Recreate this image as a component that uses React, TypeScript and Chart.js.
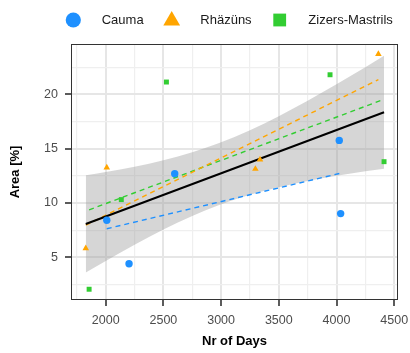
import React, { useEffect, useRef } from 'react';
import { Chart, registerables } from 'chart.js';

Chart.register(...registerables);

// ---- data ----
const caumaX = [2009, 2202, 2598, 4024, 4036];
const caumaY = [8.41, 4.41, 12.7, 15.76, 9.02];
const rhazunsX = [1827, 2009, 3297, 3337, 4363];
const rhazunsY = [5.83, 13.26, 13.13, 13.99, 23.7];
const zizersX = [1856, 2135, 2526, 3944, 4412];
const zizersY = [2.06, 10.31, 21.13, 21.8, 13.8];

// trend lines (end points)
const overallFitX = [1827, 4412];
const overallFitY = [8.07, 18.35];
const caumaFitX = [2009, 4036];
const caumaFitY = [7.63, 12.74];
const rhazunsFitX = [1827, 4363];
const rhazunsFitY = [7.95, 21.35];
const zizersFitX = [1856, 4412];
const zizersFitY = [9.37, 19.54];

// confidence band of the overall trend
const bandX = [1827, 2000, 2250, 2500, 2750, 2972, 3250, 3500, 3750, 4000, 4250, 4412];
const bandLow = [3.59, 4.66, 6.16, 7.55, 8.8, 9.76, 10.75, 11.45, 12.02, 12.5, 12.91, 13.15];
const bandHigh = [12.55, 12.85, 13.34, 13.94, 14.67, 15.48, 16.7, 17.99, 19.41, 20.93, 22.5, 23.55];

// axes
const xTicks = [1750, 2000, 2250, 2500, 2750, 3000, 3250, 3500, 3750, 4000, 4250, 4500];
const xLabelTicks = [2000, 2500, 3000, 3500, 4000, 4500];
const yTicks = [2.5, 5, 7.5, 10, 12.5, 15, 17.5, 20, 22.5];
const yLabelTicks = [5, 10, 15, 20];

const legendNames = ['Cauma', 'Rhäzüns', 'Zizers-Mastrils'];
const BLUE = '#1E90FF';
const ORANGE = '#FFA500';
const GREEN = '#32CD32';

const FONT = '"Liberation Sans", Arial, Helvetica, sans-serif';

const zip = (xs: number[], ys: number[]) => xs.map((x, i) => ({ x, y: ys[i] }));

const panelBorder = {
  id: 'panelBorder',
  afterDatasetsDraw(chart: any) {
    const { ctx, chartArea: a } = chart;
    ctx.save();
    ctx.strokeStyle = '#333333';
    ctx.lineWidth = 1;
    ctx.strokeRect(Math.round(a.left) + 0.5, Math.round(a.top) + 0.5, Math.round(a.right - a.left) - 1, Math.round(a.bottom - a.top) - 1);
    ctx.restore();
  },
};

const topLegend = {
  id: 'topLegend',
  afterDraw(chart: any) {
    const { ctx } = chart;
    const cy = 20;
    ctx.save();
    // circle
    ctx.fillStyle = BLUE;
    ctx.beginPath();
    ctx.arc(73.3, cy, 7.6, 0, Math.PI * 2);
    ctx.fill();
    // triangle
    ctx.fillStyle = ORANGE;
    ctx.beginPath();
    ctx.moveTo(171.7, cy - 9);
    ctx.lineTo(171.7 + 8.4, cy + 5.6);
    ctx.lineTo(171.7 - 8.4, cy + 5.6);
    ctx.closePath();
    ctx.fill();
    // square
    ctx.fillStyle = GREEN;
    ctx.fillRect(279.7 - 6.4, cy - 6.4, 12.8, 12.8);
    // texts
    ctx.fillStyle = '#1A1A1A';
    ctx.font = `13px ${FONT}`;
    ctx.textBaseline = 'middle';
    ctx.textAlign = 'left';
    ctx.fillText(legendNames[0], 101.7, cy);
    ctx.fillText(legendNames[1], 200.3, cy);
    ctx.fillText(legendNames[2], 308.3, cy);
    ctx.restore();
  },
};

export default function App() {
  const ref = useRef<HTMLCanvasElement | null>(null);

  useEffect(() => {
    if (!ref.current) return;
    const chart = new Chart(ref.current, {
      type: 'scatter',
      data: {
        datasets: [
          {
            label: legendNames[0],
            data: zip(caumaX, caumaY),
            pointStyle: 'circle',
            pointRadius: 3.7,
            backgroundColor: BLUE,
            borderWidth: 0,
            showLine: false,
          },
          {
            label: legendNames[1],
            data: zip(rhazunsX, rhazunsY),
            pointStyle: 'triangle',
            pointRadius: 3.8,
            backgroundColor: ORANGE,
            borderWidth: 0,
            showLine: false,
          },
          {
            label: legendNames[2],
            data: zip(zizersX, zizersY),
            pointStyle: 'rect',
            pointRadius: 3.5,
            backgroundColor: GREEN,
            borderWidth: 0,
            showLine: false,
          },
          {
            label: 'overall',
            data: zip(overallFitX, overallFitY),
            showLine: true,
            borderColor: '#000000',
            borderWidth: 2,
            pointRadius: 0,
          },
          {
            label: 'cauma fit',
            data: zip(caumaFitX, caumaFitY),
            showLine: true,
            borderColor: BLUE,
            borderWidth: 1.4,
            borderDash: [5, 4],
            pointRadius: 0,
          },
          {
            label: 'rhazuns fit',
            data: zip(rhazunsFitX, rhazunsFitY),
            showLine: true,
            borderColor: ORANGE,
            borderWidth: 1.4,
            borderDash: [5, 4],
            pointRadius: 0,
          },
          {
            label: 'zizers fit',
            data: zip(zizersFitX, zizersFitY),
            showLine: true,
            borderColor: GREEN,
            borderWidth: 1.4,
            borderDash: [5, 4],
            pointRadius: 0,
          },
          {
            label: 'band high',
            data: zip(bandX, bandHigh),
            showLine: true,
            borderWidth: 0,
            borderColor: 'rgba(0,0,0,0)',
            pointRadius: 0,
            cubicInterpolationMode: 'monotone',
            fill: '+1',
            backgroundColor: 'rgba(153,153,153,0.4)',
          },
          {
            label: 'band low',
            data: zip(bandX, bandLow),
            showLine: true,
            borderWidth: 0,
            borderColor: 'rgba(0,0,0,0)',
            pointRadius: 0,
            cubicInterpolationMode: 'monotone',
            fill: false,
          },
        ],
      },
      options: {
        animation: false,
        responsive: true,
        maintainAspectRatio: false,
        layout: { padding: { top: 44, right: 12, left: 0, bottom: 0 } },
        plugins: {
          legend: { display: false },
          tooltip: { enabled: false },
        },
        scales: {
          x: {
            type: 'linear',
            min: 1699,
            max: 4533,
            afterBuildTicks: (scale: any) => {
              scale.ticks = xTicks.map((v) => ({ value: v }));
            },
            afterFit: (scale: any) => {
              scale.height = 53;
              scale.paddingLeft = 0;
              scale.paddingRight = 0;
            },
            border: { display: false },
            grid: {
              color: (c: any) => (xLabelTicks.includes(c.tick?.value) ? '#E6E6E6' : '#EFEFEF'),
              lineWidth: (c: any) => (xLabelTicks.includes(c.tick?.value) ? 2 : 1.2),
              tickLength: 6,
              tickColor: (c: any) => (xLabelTicks.includes(c.tick?.value) ? '#333333' : 'rgba(0,0,0,0)'),
              tickWidth: 1.6,
            },
            ticks: {
              autoSkip: false,
              maxRotation: 0,
              padding: 7.5,
              color: '#4D4D4D',
              font: { size: 12.5, family: FONT },
              callback: (v: any) => (xLabelTicks.includes(Number(v)) ? String(v) : ''),
            },
            title: {
              display: true,
              text: 'Nr of Days',
              color: '#000000',
              font: { size: 13, weight: 'bold', family: FONT },
              padding: { top: 0, bottom: 4 },
            },
          },
          y: {
            type: 'linear',
            min: 1.07,
            max: 24.63,
            afterBuildTicks: (scale: any) => {
              scale.ticks = yTicks.map((v) => ({ value: v }));
            },
            afterFit: (scale: any) => {
              scale.width = 71;
              scale.paddingTop = 0;
              scale.paddingBottom = 0;
            },
            border: { display: false },
            grid: {
              color: (c: any) => (yLabelTicks.includes(c.tick?.value) ? '#E6E6E6' : '#EFEFEF'),
              lineWidth: (c: any) => (yLabelTicks.includes(c.tick?.value) ? 2 : 1.2),
              tickLength: 6,
              tickColor: (c: any) => (yLabelTicks.includes(c.tick?.value) ? '#333333' : 'rgba(0,0,0,0)'),
              tickWidth: 1.6,
            },
            ticks: {
              autoSkip: false,
              padding: 7,
              color: '#4D4D4D',
              font: { size: 12.5, family: FONT },
              callback: (v: any) => (yLabelTicks.includes(Number(v)) ? String(v) : ''),
            },
            title: {
              display: true,
              text: 'Area [%]',
              color: '#000000',
              font: { size: 13, weight: 'bold', family: FONT },
              padding: { top: 8, bottom: 0 },
            },
          },
        },
      },
      plugins: [panelBorder, topLegend],
    } as any);
    return () => chart.destroy();
  }, []);

  return (
    <div style={{ position: 'absolute', left: 0, top: 0, width: 410, height: 353, background: '#FFFFFF' }}>
      <canvas ref={ref} />
    </div>
  );
}
